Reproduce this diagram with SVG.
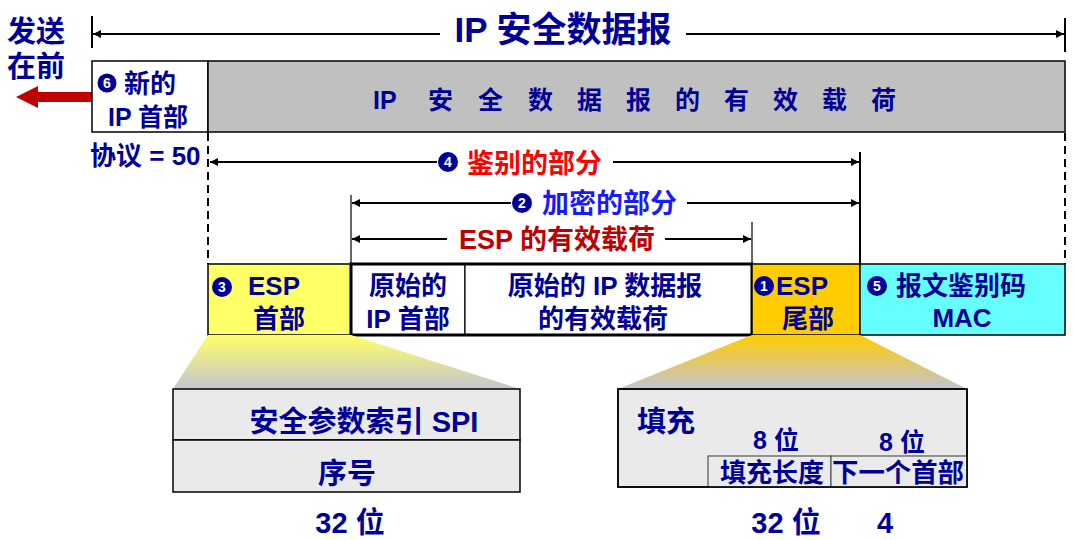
<svg xmlns="http://www.w3.org/2000/svg" width="1074" height="540" viewBox="0 0 1074 540">
<defs>
<style>
.t{font-family:"Liberation Sans","Noto Sans CJK SC",sans-serif;font-weight:bold;fill:#000099}
.m{text-anchor:middle}
.c{fill:#000099}
.d{font-family:"Liberation Sans",sans-serif;font-weight:bold;font-size:14px;fill:#fff;text-anchor:middle}
.ln{stroke:#000;stroke-width:2;fill:none}
.thin{stroke:#000;stroke-width:1.2;fill:none}
.dash{stroke:#000;stroke-width:2;stroke-dasharray:8 5;fill:none}
.bx{stroke:#000;stroke-width:1.5}
</style>
<marker id="arr" viewBox="0 0 10 10" refX="10" refY="5" markerWidth="11" markerHeight="8" markerUnits="userSpaceOnUse" orient="auto-start-reverse">
<path d="M0,0 L10,5 L0,10 z" fill="#000"/>
</marker>
<linearGradient id="gy" x1="0" y1="0" x2="0" y2="1">
<stop offset="0" stop-color="#ffff66"/>
<stop offset="1" stop-color="#c4c4d2"/>
</linearGradient>
<linearGradient id="go" x1="0" y1="0" x2="0" y2="1">
<stop offset="0" stop-color="#ffcc00"/>
<stop offset="1" stop-color="#c4c4d2"/>
</linearGradient>
</defs>
<rect width="1074" height="540" fill="#fff"/>

<g id="title">
<text class="t m" x="563" y="42" font-size="35">IP 安全数据报</text>
</g>
<g id="send-first">
<text class="t" x="7" y="42" font-size="29">发送</text>
<text class="t" x="7" y="77" font-size="29">在前</text>
<polygon points="92,92 38,92 38,86 16,97 38,108 38,102 92,102" fill="#c00000"/>
</g>

<g id="new-ip-header">
<rect class="bx" x="92" y="61" width="116" height="71" fill="#fff"/>
<circle class="c" cx="107" cy="83" r="9.5"/>
<text class="d" x="107" y="88">6</text>
<text class="t" x="124" y="93" font-size="26">新的</text>
<text class="t" x="108" y="126" font-size="25">IP 首部</text>
<text class="t" x="90" y="165" font-size="26">协议 = 50</text>
</g>

<g id="ipsec-payload">
<rect class="bx" x="208" y="61" width="857" height="71" fill="#c0c0c0"/>
<text class="t" y="109" font-size="25"><tspan x="373">IP</tspan><tspan x="428 478 528 577 626 675 724 773 822 871">安全数据报的有效载荷</tspan></text>
</g>

<g id="esp-header">
<rect class="bx" x="208" y="264" width="143" height="71" fill="#ffff66"/>
<circle class="c" cx="222" cy="287" r="10"/>
<text class="d" x="222" y="292">3</text>
<text class="t" x="248" y="295" font-size="26">ESP</text>
<text class="t" x="253" y="328" font-size="26">首部</text>
</g>

<g id="orig-ip-header">
<rect x="351" y="264" width="114" height="71" fill="#fff" stroke="#000" stroke-width="1.2"/>
<text class="t m" x="408" y="295" font-size="26">原始的</text>
<text class="t m" x="408" y="328" font-size="26">IP 首部</text>
</g>

<g id="orig-payload">
<rect x="465" y="264" width="287" height="71" fill="#fff" stroke="#000" stroke-width="1.2"/>
<text class="t m" x="605" y="295" font-size="26">原始的 IP 数据报</text>
<text class="t m" x="603" y="328" font-size="26">的有效载荷</text>
<rect x="351" y="264" width="401" height="71" fill="none" stroke="#000" stroke-width="3"/>
</g>

<g id="esp-trailer">
<rect class="bx" x="752" y="264" width="108" height="71" fill="#ffcc00"/>
<circle class="c" cx="764" cy="286" r="10"/>
<text class="d" x="764" y="291">1</text>
<text class="t" x="776" y="295" font-size="26">ESP</text>
<text class="t" x="782" y="328" font-size="26">尾部</text>
</g>

<g id="mac">
<rect class="bx" x="860" y="264" width="205" height="71" fill="#66ffff"/>
<circle class="c" cx="877" cy="286" r="10"/>
<text class="d" x="877" y="291">5</text>
<text class="t" x="896" y="295" font-size="26">报文鉴别码</text>
<text class="t m" x="962" y="327" font-size="26">MAC</text>
</g>

<g id="esp-header-detail">
<polygon points="208,335 351,335 520,389 173,389" fill="url(#gy)"/>
<rect class="bx" x="173" y="389" width="347" height="51" fill="#eaeaea"/>
<rect class="bx" x="173" y="440" width="347" height="52" fill="#eaeaea"/>
<text class="t m" x="364" y="432" font-size="29">安全参数索引 SPI</text>
<text class="t m" x="347" y="484" font-size="29">序号</text>
<text class="t m" x="350" y="533" font-size="29">32 位</text>
</g>

<g id="esp-trailer-detail">
<polygon points="752,335 860,335 967,389 618,389" fill="url(#go)"/>
<rect class="bx" x="618" y="389" width="349" height="98" fill="#eaeaea"/>
<rect x="708" y="456" width="123" height="31" fill="#eaeaea" stroke="#555" stroke-width="1.2"/>
<rect x="831" y="456" width="136" height="31" fill="#eaeaea" stroke="#555" stroke-width="1.2"/>
<rect x="618" y="389" width="349" height="98" fill="none" stroke="#000" stroke-width="1.5"/>
<text class="t" x="637" y="432" font-size="29">填充</text>
<text class="t m" x="776" y="449" font-size="25">8 位</text>
<text class="t m" x="902" y="451" font-size="25">8 位</text>
<text class="t m" x="772" y="482" font-size="26">填充长度</text>
<text class="t m" x="898" y="482" font-size="26" textLength="132" lengthAdjust="spacingAndGlyphs">下一个首部</text>
<text class="t m" x="786" y="533" font-size="29">32 位</text>
<text class="t m" x="885" y="533" font-size="29">4</text>
</g>

<g id="connectors">
<line class="ln" x1="92" y1="16" x2="92" y2="48"/>
<line class="ln" x1="1065" y1="18" x2="1065" y2="52"/>
<line class="ln" x1="440" y1="34" x2="93" y2="34" marker-end="url(#arr)"/>
<line class="ln" x1="686" y1="34" x2="1064" y2="34" marker-end="url(#arr)"/>

<line class="dash" x1="208" y1="133" x2="208" y2="264"/>
<line class="dash" x1="1065" y1="133" x2="1065" y2="264"/>
<line class="ln" x1="860" y1="152" x2="860" y2="264"/>
<line class="thin" x1="351" y1="195" x2="351" y2="264"/>
<line class="thin" x1="752" y1="222" x2="752" y2="264"/>

<line class="ln" x1="437" y1="162" x2="210" y2="162" marker-end="url(#arr)"/>
<line class="ln" x1="613" y1="162" x2="859" y2="162" marker-end="url(#arr)"/>
<line class="ln" x1="511" y1="203" x2="352" y2="203" marker-end="url(#arr)"/>
<line class="ln" x1="687" y1="203" x2="859" y2="203" marker-end="url(#arr)"/>
<line class="ln" x1="447" y1="239" x2="352" y2="239" marker-end="url(#arr)"/>
<line class="ln" x1="665" y1="239" x2="751" y2="239" marker-end="url(#arr)"/>
</g>

<g id="labels">
<circle class="c" cx="448" cy="162" r="10"/>
<text class="d" x="448" y="167">4</text>
<text class="t" x="467" y="173" font-size="27" style="fill:#ff0000">鉴别的部分</text>
<circle class="c" cx="522" cy="203" r="10"/>
<text class="d" x="522" y="208">2</text>
<text class="t" x="542" y="213" font-size="27" style="fill:#1a1aff">加密的部分</text>
<text class="t" x="459" y="249" font-size="27" style="fill:#c00000">ESP 的有效载荷</text>
</g>
</svg>
